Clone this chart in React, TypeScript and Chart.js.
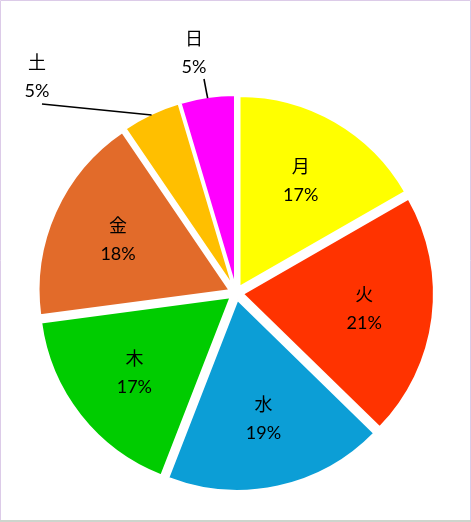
import React, { useEffect, useRef } from "react";
import { Chart, registerables } from "chart.js";

Chart.register(...registerables);

const categories = ["月", "火", "水", "木", "金", "土", "日"];
const values = [16.7, 20.6, 18.6, 17.0, 17.6, 4.9, 4.6];
const colors = ["#ffff00", "#ff3300", "#0c9ed6", "#00cc00", "#e26b2a", "#ffbf00", "#ff00ff"];

const SLICE_OFFSET = 7;
const INSIDE_FRACTION = 0.64;
const LABEL_FONT = '18px Lato, "Noto Sans CJK JP", sans-serif';
// outside labels: anchor relative to pie centre and leader start relative to label anchor
const outsideLabels: Record<number, { dx: number; dy: number; lx: number; ly: number }> = {
  5: { dx: -199, dy: -216, lx: 5, ly: 27 },
  6: { dx: -42, dy: -240, lx: 10, ly: 26 },
};

const framePlugin = {
  id: "frame",
  beforeDraw(chart: any) {
    const { ctx, width, height } = chart;
    ctx.save();
    ctx.fillStyle = "#ffffff";
    ctx.fillRect(0, 0, width, height);
    ctx.strokeStyle = "#dccbe8";
    ctx.lineWidth = 1;
    ctx.beginPath();
    ctx.moveTo(0.5, height - 2);
    ctx.lineTo(0.5, 0.5);
    ctx.lineTo(width - 0.5, 0.5);
    ctx.lineTo(width - 0.5, height - 2);
    ctx.stroke();
    ctx.fillStyle = "#cdd5cd";
    ctx.fillRect(0, height - 2, width, 2);
    ctx.restore();
  },
};

// explode every slice by a uniform translation along its bisector
const explodePlugin = {
  id: "explode",
  afterUpdate(chart: any) {
    chart.getDatasetMeta(0).data.forEach((el: any) => {
      if (el.__exploded) return;
      const orig = el.draw.bind(el);
      el.draw = (ctx: CanvasRenderingContext2D, area: any) => {
        const mid = (el.startAngle + el.endAngle) / 2;
        ctx.save();
        ctx.translate(Math.cos(mid) * SLICE_OFFSET, Math.sin(mid) * SLICE_OFFSET);
        orig(ctx, area);
        ctx.restore();
      };
      el.__exploded = true;
    });
  },
};

const labelPlugin = {
  id: "sliceLabels",
  afterDatasetsDraw(chart: any) {
    const { ctx } = chart;
    const meta = chart.getDatasetMeta(0);
    const data = chart.data.datasets[0].data as number[];
    const total = data.reduce((a, b) => a + b, 0);
    ctx.save();
    ctx.font = LABEL_FONT;
    ctx.fillStyle = "#000000";
    ctx.textAlign = "center";
    ctx.textBaseline = "middle";
    meta.data.forEach((arc: any, i: number) => {
      const { x, y, startAngle, endAngle, outerRadius } = arc.getProps(
        ["x", "y", "startAngle", "endAngle", "outerRadius"],
        true
      );
      const mid = (startAngle + endAngle) / 2;
      const name = chart.data.labels[i];
      const pct = Math.round((data[i] / total) * 100) + "%";
      const out = outsideLabels[i];
      let cx: number;
      let cy: number;
      if (out) {
        cx = x + out.dx;
        cy = y + out.dy;
        const ex = x + Math.cos(mid) * (outerRadius + SLICE_OFFSET - 1);
        const ey = y + Math.sin(mid) * (outerRadius + SLICE_OFFSET - 1);
        ctx.save();
        ctx.strokeStyle = "#000000";
        ctx.lineWidth = 1.6;
        ctx.beginPath();
        ctx.moveTo(cx + out.lx, cy + out.ly);
        ctx.lineTo(ex, ey);
        ctx.stroke();
        ctx.restore();
      } else {
        const d = outerRadius * INSIDE_FRACTION + SLICE_OFFSET;
        cx = x + Math.cos(mid) * d;
        cy = y + Math.sin(mid) * d;
      }
      ctx.fillText(name, cx, cy - 14);
      ctx.fillText(pct, cx, cy + 14);
    });
    ctx.restore();
  },
};

export default function App() {
  const ref = useRef<HTMLCanvasElement | null>(null);
  useEffect(() => {
    if (!ref.current) return;
    const chart = new Chart(ref.current, {
      type: "pie",
      data: {
        labels: categories,
        datasets: [
          {
            data: values,
            backgroundColor: colors,
            borderColor: "#ffffff",
            borderWidth: 2,
            offset: 0,
            radius: 191,
          } as any,
        ],
      },
      options: {
        animation: false,
        responsive: false,
        maintainAspectRatio: false,
        layout: { padding: { left: 21, right: 20, top: 84, bottom: 20 } },
        plugins: {
          legend: { display: false },
          tooltip: { enabled: false },
        },
      } as any,
      plugins: [framePlugin, explodePlugin, labelPlugin],
    });
    return () => chart.destroy();
  }, []);
  return (
    <div style={{ position: "fixed", left: 0, top: 0, width: 471, height: 522 }}>
      <canvas ref={ref} width={471} height={522} style={{ width: 471, height: 522, display: "block" }} />
    </div>
  );
}
